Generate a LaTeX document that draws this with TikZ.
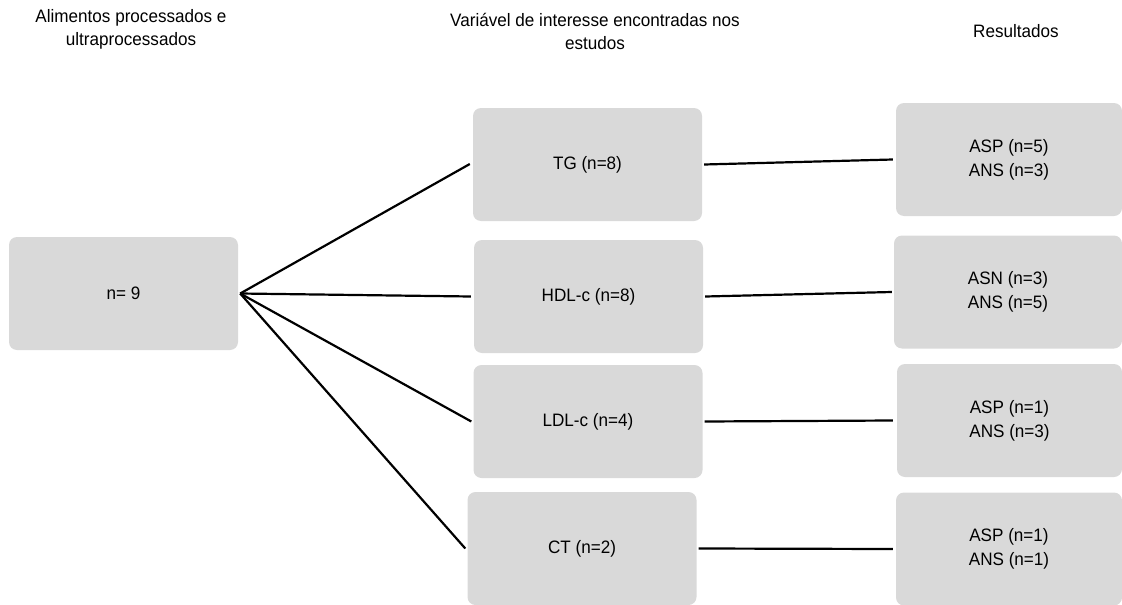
\documentclass[tikz,border=0pt]{standalone}
\usepackage{fontspec}
\setmainfont{Liberation Sans}[FakeStretch=0.95]
\definecolor{boxgray}{HTML}{D9D9D9}
\begin{document}
\begin{tikzpicture}[x=1pt,y=-1pt,
  box/.style={fill=boxgray, rounded corners=8pt, minimum width=229pt, minimum height=113pt,
    inner sep=0pt, align=center, font=\fontsize{18}{24}\selectfont},
  header/.style={align=center, inner sep=0pt, font=\fontsize{18}{23}\selectfont},
  link/.style={line width=2.2pt, black}]
\useasboundingbox (0,0) rectangle (1122,605);
% headers
\node[header] (h1) at (131,29) {Alimentos processados e\\ultraprocessados};
\node[header] (h2) at (595,31) {Variável de interesse encontradas nos\\estudos};
\node[header] (h3) at (1016,31) {Resultados};
% boxes
\node[box] (l) at (123.5,293.5) {n= 9};
\node[box] (tg) at (587.5,164.5) {TG (n=8)};
\node[box] (hdl) at (588.5,296.5) {HDL-c (n=8)};
\node[box] (ldl) at (588,421.5) {LDL-c (n=4)};
\node[box] (ct) at (582,548.5) {CT (n=2)};
\node[box, minimum width=226pt] (r1) at (1009,159.5) {ASP (n=5)\\ANS (n=3)};
\node[box, minimum width=228pt] (r2) at (1008,292) {ASN (n=3)\\ANS (n=5)};
\node[box, minimum width=225pt] (r3) at (1009.5,420.5) {ASP (n=1)\\ANS (n=3)};
\node[box, minimum width=226pt] (r4) at (1009,549) {ASP (n=1)\\ANS (n=1)};
% hub
\coordinate (hub) at ([xshift=2pt]l.east);
% connectors
\draw[link] (hub) -- ([xshift=-3pt,yshift=0.5pt]tg.west);
\draw[link] (hub) -- ([xshift=-3pt]hdl.west);
\draw[link] (hub) -- ([xshift=-2pt]ldl.west);
\draw[link] (hub) -- ([xshift=-2pt]ct.west);
\draw[link] ([xshift=2pt]tg.east) -- ([xshift=-3pt]r1.west);
\draw[link] ([xshift=2pt]hdl.east) -- ([xshift=-2pt]r2.west);
\draw[link] ([xshift=2pt]ldl.east) -- ([xshift=-4pt]r3.west);
\draw[link] ([xshift=2pt]ct.east) -- ([xshift=-3pt]r4.west);
\end{tikzpicture}
\end{document}
